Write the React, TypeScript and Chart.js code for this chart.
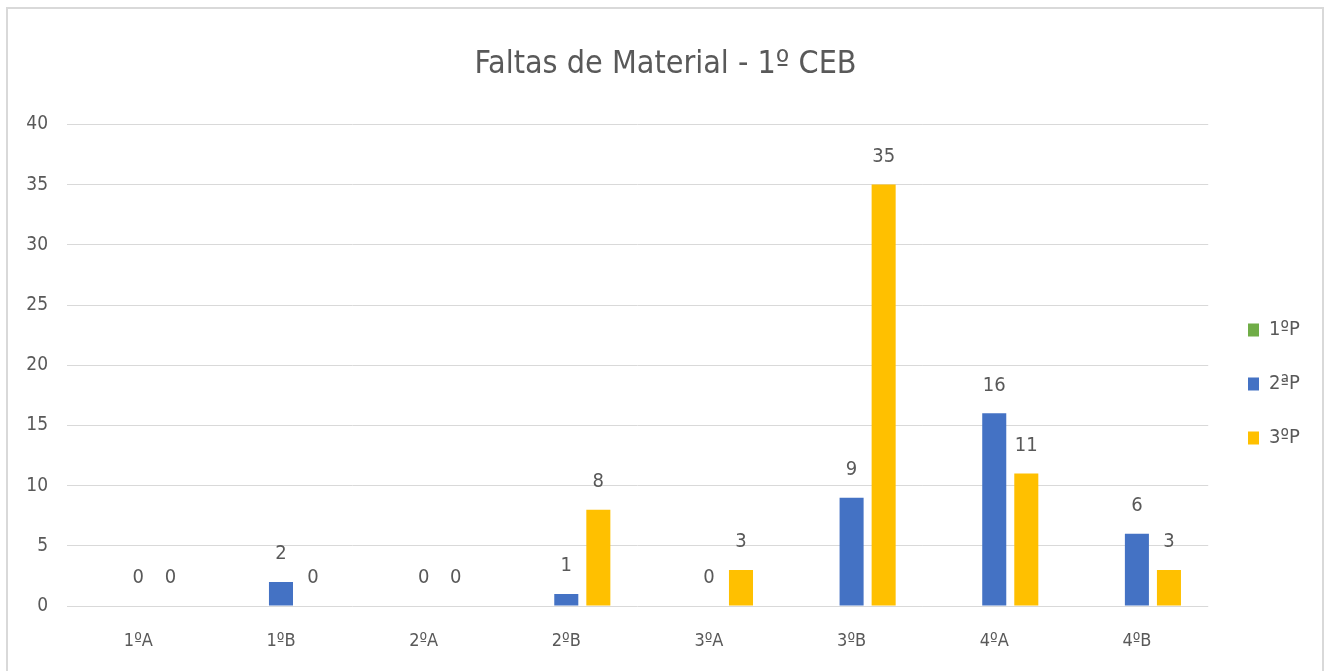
import React, { useEffect, useRef } from "react";
import { Chart, registerables } from "chart.js";

Chart.register(...registerables);

const title = "Faltas de Material - 1º CEB";
const categories = ["1ºA", "1ºB", "2ºA", "2ºB", "3ºA", "3ºB", "4ºA", "4ºB"];
const seriesNames = ["1ºP", "2ªP", "3ºP"];
const period1: (number | null)[] = [null, null, null, null, null, null, null, null];
const period2: (number | null)[] = [0, 2, 0, 1, 0, 9, 16, 6];
const period3: (number | null)[] = [0, 0, 0, 8, 3, 35, 11, 3];
const yMin = 0;
const yMax = 40;
const yStep = 5;

const colors = ["#70AD47", "#4472C4", "#FFC000"];
const textColor = "#595959";
const gridColor = "#D9D9D9";
const FONT = "'Liberation Sans Narrow', 'DejaVu Sans Condensed', 'Liberation Sans', sans-serif";

const LEGEND_BOX_X = 1248;
const LEGEND_FIRST_Y = 330;
const TITLE_CENTER_X = 665.5;

const frameAndLabels = {
  id: "frameAndLabels",
  afterLayout(chart: any) {
    const tb = chart.titleBlock;
    if (tb) {
      const dxT = TITLE_CENTER_X - (tb.left + tb.right) / 2;
      tb.left += dxT;
      tb.right += dxT;
    }
    const lg = chart.legend;
    if (!lg || !lg.legendItems) return;
    const pad = lg.options.labels.padding;
    const dx = LEGEND_BOX_X - (lg.left + pad);
    const itemH = lg._itemHeight || 20;
    const colH = lg.columnSizes && lg.columnSizes[0] ? lg.columnSizes[0].height : 0;
    const startY = (lg.top + pad + lg.bottom - colH) / 2;
    const dy = LEGEND_FIRST_Y - (startY + itemH / 2);
    lg.left += dx;
    lg.right += dx;
    lg.top += dy;
    lg.bottom += dy;
  },
  beforeDraw(chart: any) {
    const ctx = chart.ctx;
    ctx.save();
    ctx.fillStyle = "#ffffff";
    ctx.fillRect(0, 0, chart.width, chart.height);
    ctx.strokeStyle = "#D9D9D9";
    ctx.lineWidth = 2;
    ctx.strokeRect(7, 8, 1316, 700);
    ctx.restore();
  },
  afterDatasetsDraw(chart: any) {
    const ctx = chart.ctx;
    ctx.save();
    ctx.fillStyle = textColor;
    ctx.font = `20px ${FONT}`;
    ctx.textAlign = "center";
    ctx.textBaseline = "middle";
    chart.data.datasets.forEach((ds: any, i: number) => {
      const meta = chart.getDatasetMeta(i);
      if (meta.hidden) return;
      meta.data.forEach((el: any, j: number) => {
        const v = ds.data[j];
        if (v === null || v === undefined) return;
        ctx.fillText(String(v), el.x, el.y - 28);
      });
    });
    ctx.restore();
  },
};

export default function App() {
  const ref = useRef<HTMLCanvasElement | null>(null);
  useEffect(() => {
    if (!ref.current) return;
    const datasets = [period1, period2, period3].map((d, i) => ({
      label: seriesNames[i],
      data: d,
      backgroundColor: colors[i],
      borderWidth: 0,
      categoryPercentage: 0.674,
      barPercentage: 0.75,
    }));
    const chart = new Chart(ref.current, {
      type: "bar",
      data: { labels: categories, datasets },
      options: {
        animation: false,
        responsive: false,
        maintainAspectRatio: false,
        layout: { padding: { right: 27 } },
        plugins: {
          title: {
            display: true,
            text: title,
            color: textColor,
            font: { family: FONT, size: 32, weight: "normal" },
            padding: { top: 45, bottom: 41 },
          },
          legend: {
            display: true,
            position: "right",
            labels: {
              color: textColor,
              font: { family: FONT, size: 20 },
              boxWidth: 11,
              boxHeight: 13,
              padding: 34,
            },
          },
          tooltip: { enabled: false },
        },
        scales: {
          x: {
            grid: { display: false, drawTicks: false },
            border: { display: false },
            ticks: { color: textColor, font: { family: FONT, size: 18 }, padding: 25 },
            afterFit(scale: any) {
              scale.height = 65;
            },
          },
          y: {
            min: yMin,
            max: yMax,
            grid: { color: gridColor, lineWidth: 1, drawTicks: false },
            border: { display: false },
            ticks: { stepSize: yStep, color: textColor, font: { family: FONT, size: 19 }, padding: 19 },
            afterFit(scale: any) {
              scale.width = 67;
            },
          },
        },
      },
      plugins: [frameAndLabels],
    });
    return () => chart.destroy();
  }, []);
  return (
    <div style={{ position: "absolute", left: 0, top: 0, width: 1331, height: 671 }}>
      <canvas ref={ref} width={1331} height={671} style={{ width: 1331, height: 671, display: "block" }} />
    </div>
  );
}
